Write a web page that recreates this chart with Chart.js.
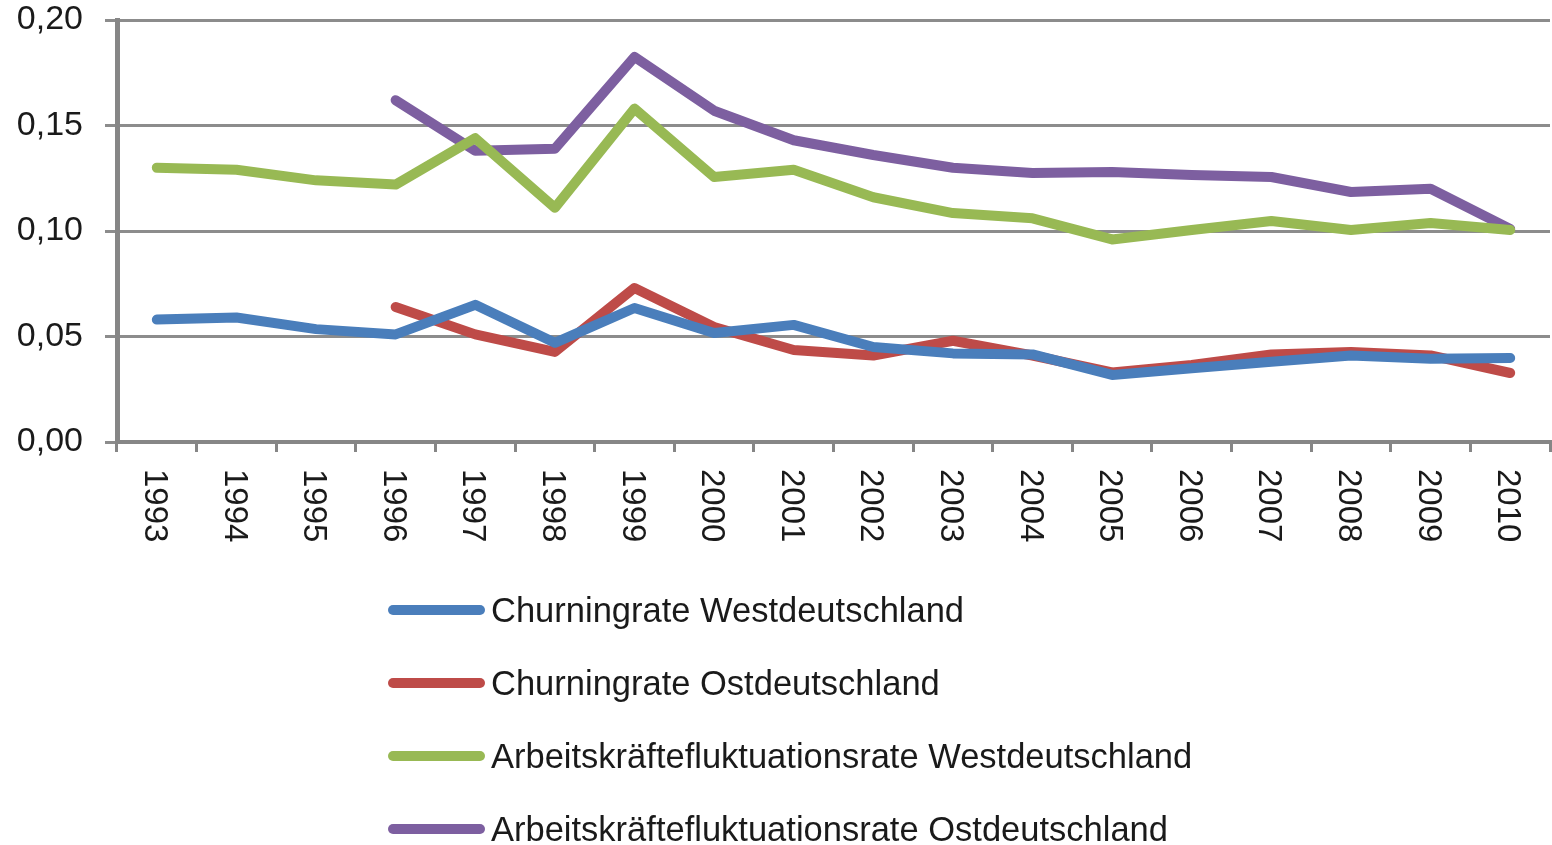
<!DOCTYPE html>
<html>
<head>
<meta charset="utf-8">
<script src="https://cdn.jsdelivr.net/npm/chart.js@4"></script>
<style>
  html, body { margin: 0; padding: 0; background: #fff; }
  #wrap { position: relative; width: 1552px; height: 845px; }
  #legend { position: absolute; left: 388px; top: 586px; font-family: "Liberation Sans", Arial, sans-serif; font-size: 34.5px; color: #1a1a1a; }
  .item { display: flex; align-items: center; height: 48px; margin-bottom: 25px; }
  .swatch { width: 97px; height: 10px; border-radius: 5px; margin-right: 6px; }
</style>
</head>
<body>
<div id="wrap">
  <canvas id="chart" width="1552" height="845"></canvas>
  <div id="legend"></div>
</div>
<script>
const years = ['1993', '1994', '1995', '1996', '1997', '1998', '1999', '2000', '2001',
  '2002', '2003', '2004', '2005', '2006', '2007', '2008', '2009', '2010'];

const churnWest = [0.058, 0.059, 0.0535, 0.051, 0.065, 0.047, 0.0635, 0.0517, 0.0555,
  0.045, 0.042, 0.0415, 0.0318, 0.035, 0.038, 0.041, 0.0395, 0.0398];
const churnOst = [null, null, null, 0.064, 0.051, 0.0427, 0.073, 0.0545, 0.0436,
  0.041, 0.048, 0.041, 0.033, 0.0365, 0.0415, 0.0427, 0.041, 0.0327];
const fluktWest = [0.130, 0.129, 0.124, 0.122, 0.144, 0.111, 0.158, 0.1256, 0.129,
  0.116, 0.1085, 0.106, 0.096, 0.1005, 0.1047, 0.1005, 0.1038, 0.1005];
const fluktOst = [null, null, null, 0.162, 0.138, 0.139, 0.1825, 0.157, 0.143,
  0.136, 0.130, 0.1275, 0.128, 0.1265, 0.1256, 0.1185, 0.120, 0.101];

const yTicks = [0, 0.05, 0.10, 0.15, 0.20];

const axisGray = '#868686';
const textColor = '#1a1a1a';
const font = '"Liberation Sans", Arial, sans-serif';

function line(label, data, color) {
  return {
    label, data,
    borderColor: color,
    backgroundColor: color,
    borderWidth: 10,
    borderCapStyle: 'round',
    borderJoinStyle: 'round',
    pointRadius: 0,
    tension: 0,
    spanGaps: false
  };
}

// x labels are rotated clockwise, which chart.js ticks can't do, so draw them here
const yearLabels = {
  id: 'yearLabels',
  afterDraw(chart) {
    const { ctx, scales: { x } } = chart;
    const size = 33;
    ctx.save();
    ctx.font = size + 'px ' + font;
    ctx.fillStyle = textColor;
    ctx.textAlign = 'left';
    ctx.textBaseline = 'alphabetic';
    chart.data.labels.forEach((lab, i) => {
      const px = x.getPixelForValue(i);
      ctx.save();
      ctx.translate(px - size * 0.36, 469);
      ctx.rotate(Math.PI / 2);
      ctx.fillText(lab, 0, 0);
      ctx.restore();
    });
    ctx.restore();
  }
};

const chart = new Chart(document.getElementById('chart'), {
  type: 'line',
  data: {
    labels: years,
    datasets: [
      line('Churningrate Westdeutschland', churnWest, '#4a7ebb'),
      line('Churningrate Ostdeutschland', churnOst, '#be4b48'),
      line('Arbeitskräftefluktuationsrate Westdeutschland', fluktWest, '#98b954'),
      line('Arbeitskräftefluktuationsrate Ostdeutschland', fluktOst, '#7d5fa0')
    ]
  },
  options: {
    responsive: false,
    animation: false,
    layout: { padding: { top: 20, right: 2, left: 0, bottom: 0 } },
    plugins: {
      legend: { display: false },
      tooltip: { enabled: false }
    },
    scales: {
      x: {
        offset: true,
        grid: { offset: true, drawOnChartArea: false, color: axisGray, lineWidth: 3, tickLength: 10 },
        border: { color: axisGray, width: 4 },
        ticks: { display: false },
        afterFit: (s) => { s.height = 845 - 442; }
      },
      y: {
        min: 0,
        max: 0.2,
        afterBuildTicks: (s) => { s.ticks = yTicks.map(v => ({ value: v })); },
        grid: { color: '#8c8c8c', lineWidth: 3, tickLength: 12 },
        border: { color: axisGray, width: 5 },
        ticks: {
          padding: 22,
          color: textColor,
          font: { family: font, size: 34 },
          callback: (v) => v.toFixed(2).replace('.', ',')
        },
        afterFit: (s) => { s.width = 117; s.paddingTop = 0; s.paddingBottom = 0; }
      }
    }
  },
  plugins: [yearLabels]
});

// legend in one column below the chart
const legendEl = document.getElementById('legend');
chart.data.datasets.forEach((ds) => {
  const row = document.createElement('div');
  row.className = 'item';
  const sw = document.createElement('span');
  sw.className = 'swatch';
  sw.style.background = ds.borderColor;
  const txt = document.createElement('span');
  txt.textContent = ds.label;
  row.appendChild(sw);
  row.appendChild(txt);
  legendEl.appendChild(row);
});
</script>
</body>
</html>
